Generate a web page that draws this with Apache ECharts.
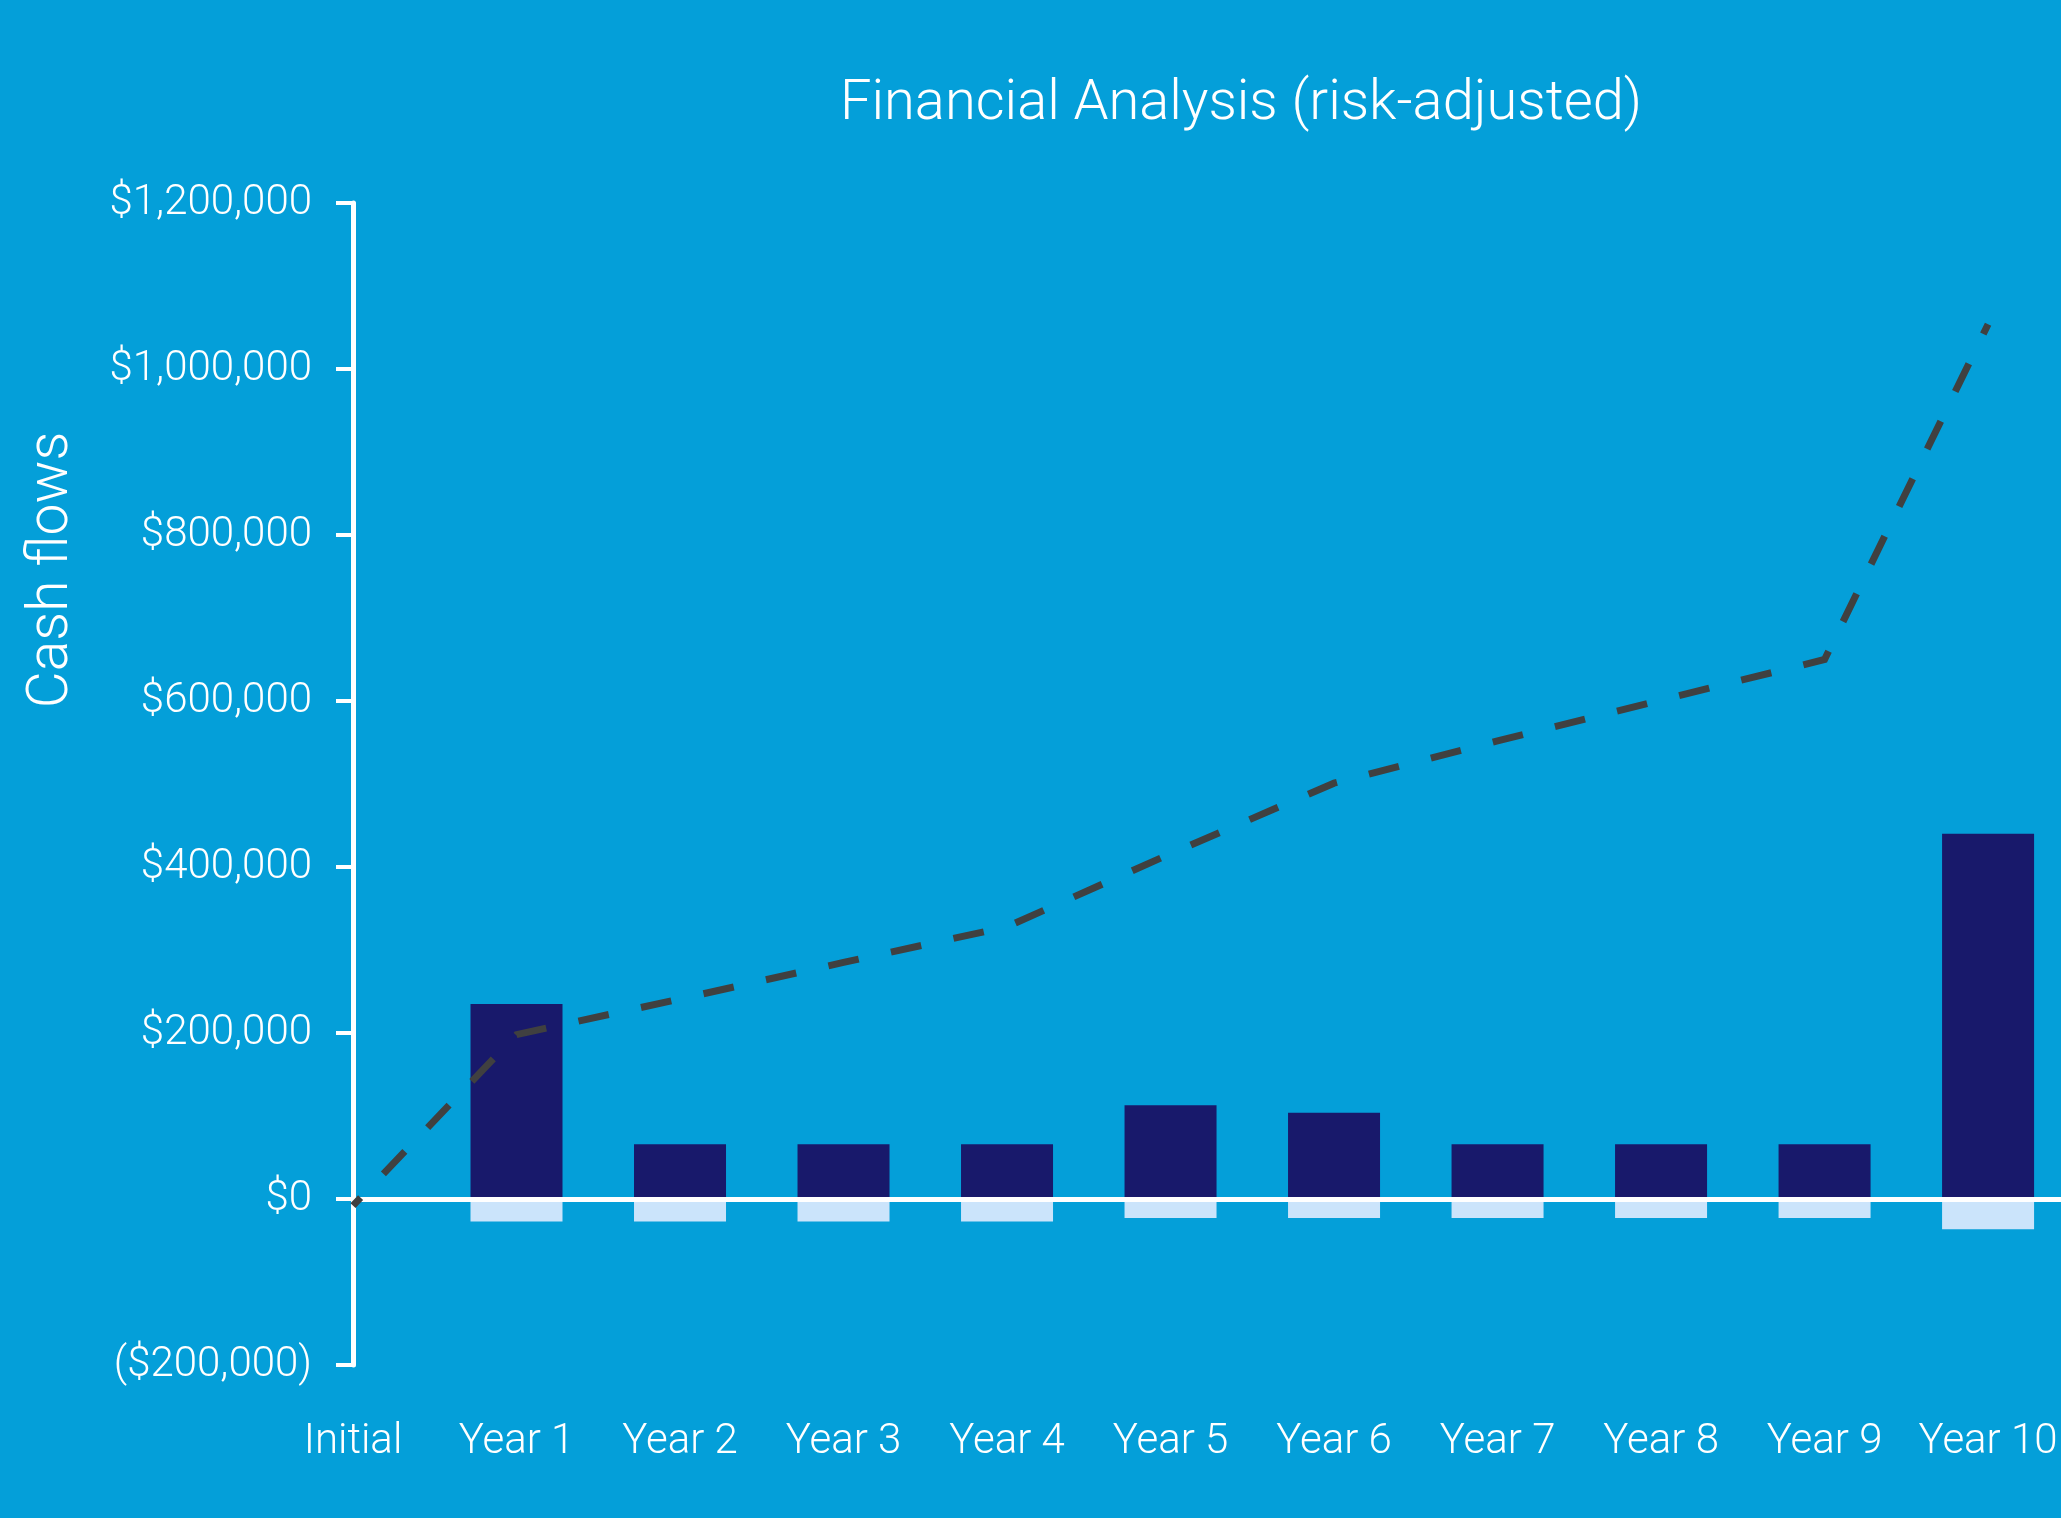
<!DOCTYPE html>
<html>
<head>
<meta charset="utf-8">
<script src="https://cdn.jsdelivr.net/npm/echarts@6/dist/echarts.min.js"></script>
<style>
  html, body { margin: 0; padding: 0; background: #049fd9; }
  #chart { width: 2061px; height: 1518px; }
</style>
</head>
<body>
<div id="chart"></div>
<script>
// categories along the x axis
const categories = ["Initial", "Year 1", "Year 2", "Year 3", "Year 4", "Year 5",
  "Year 6", "Year 7", "Year 8", "Year 9", "Year 10"];
// yearly inflows (dark bars)
const inflows = [0, 235000, 66000, 66000, 66000, 113000, 104000, 66000, 66000, 66000, 440000];
// yearly outflows (light bars)
const outflows = [0, -27000, -27000, -27000, -27000, -23000, -23000, -23000, -23000, -23000, -36500];
// cumulative cash position (dashed line)
const cumulative = [-8000, 198000, 241000, 285000, 328000, 416000, 501000, 552000, 601000, 650000, 1054000];

const chart = echarts.init(document.getElementById("chart"));

const fmtMoney = v => {
  const s = "$" + Math.abs(v).toLocaleString("en-US");
  return v < 0 ? "(" + s + ")" : s;
};

chart.setOption({
  backgroundColor: "#049fd9",
  animation: false,
  title: {
    text: "Financial Analysis (risk-adjusted)",
    left: 835,
    top: 72,
    textStyle: {
      color: "#fff",
      fontFamily: "Roboto",
      fontWeight: 300,
      fontSize: 56
    }
  },
  grid: {
    left: 353,
    right: 0,
    top: 203,
    bottom: 153,
    containLabel: false
  },
  xAxis: {
    type: "value",
    min: 0,
    max: 10.446,
    interval: 1,
    axisLine: { show: false, onZero: false },
    axisTick: { show: false },
    splitLine: { show: false },
    axisLabel: {
      color: "#fff",
      fontFamily: "Roboto",
      fontWeight: 300,
      fontSize: 42,
      margin: 56,
      showMaxLabel: false,
      formatter: v => (Number.isInteger(v) ? categories[v] : "")
    }
  },
  yAxis: {
    type: "value",
    min: -200000,
    max: 1200000,
    interval: 200000,
    axisLine: { show: true, lineStyle: { color: "#fff", width: 5 } },
    axisTick: { show: true, length: 17, lineStyle: { color: "#fff", width: 4 } },
    splitLine: { show: false },
    axisLabel: {
      color: "#fff",
      fontFamily: "Roboto",
      fontWeight: 300,
      fontSize: 42,
      margin: 41,
      padding: [5, 0, 0, 0],
      formatter: fmtMoney
    }
  },
  graphic: [{
    type: "text",
    x: 53,
    y: 570,
    rotation: Math.PI / 2,
    style: {
      text: "Cash flows",
      fill: "#fff",
      font: "300 57px Roboto",
      align: "center",
      verticalAlign: "middle"
    }
  }],
  series: [
    {
      name: "Inflows",
      type: "bar",
      stack: "cf",
      barWidth: 92,
      itemStyle: { color: "#18196b" },
      data: categories.map((c, i) => [i, inflows[i]]),
      z: 2
    },
    {
      name: "Outflows",
      type: "bar",
      stack: "cf",
      barWidth: 92,
      itemStyle: { color: "#cbe4fb" },
      data: categories.map((c, i) => [i, outflows[i]]),
      markLine: {
        silent: true,
        symbol: "none",
        label: { show: false },
        lineStyle: { color: "#fff", width: 5, type: "solid" },
        data: [{ yAxis: 0 }]
      },
      z: 2
    },
    {
      name: "Cumulative",
      type: "line",
      symbol: "none",
      z: 5,
      lineStyle: {
        color: "#404040",
        width: 7,
        type: [31, 33],
        dashOffset: 20,
        cap: "butt",
        join: "miter"
      },
      data: categories.map((c, i) => [i, cumulative[i]])
    }
  ]
});
</script>
</body>
</html>
